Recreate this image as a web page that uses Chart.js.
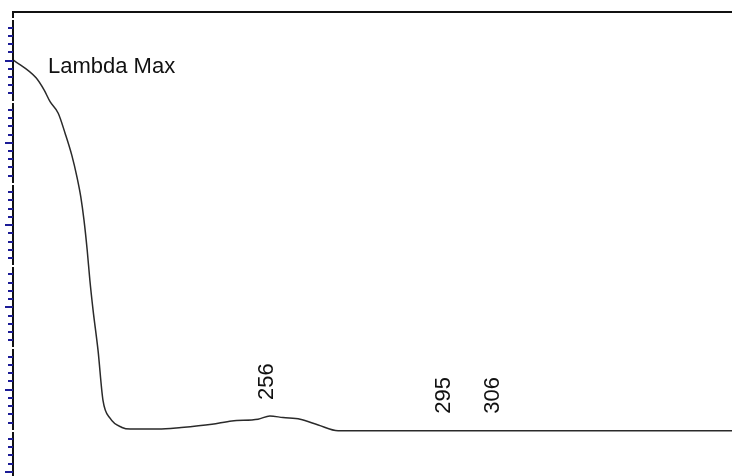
<!DOCTYPE html>
<html>
<head>
<meta charset="utf-8">
<script src="https://cdn.jsdelivr.net/npm/chart.js@4/dist/chart.umd.min.js"></script>
<style>
  body { margin: 0; background: #fff; }
  canvas { display: block; }
</style>
</head>
<body>
<canvas id="spectrum" width="732" height="476" style="width:732px;height:476px"></canvas>
<script>
// wavelength (nm) and absorbance
var wavelengths = [200, 205.1, 206.9, 208.2, 210.0, 211.5, 213.0, 214.2, 215.0, 215.7,
    216.4, 217.0, 217.7, 218.8, 219.9, 221.5, 224.1, 225.9, 232.1, 237.2,
    244.0, 248.4, 254.2, 256.8, 259.7, 263.5, 267.5, 271.9, 359];
var absorbance = [4.51, 4.29, 4.14, 4.00, 3.86, 3.62, 3.35, 3.07, 2.84, 2.56,
    2.20, 1.83, 1.47, 0.98, 0.37, 0.15, 0.04, 0.02, 0.02, 0.04,
    0.08, 0.12, 0.14, 0.18, 0.16, 0.14, 0.07, 0.0, 0.0];
var peakWavelengths = [256, 295, 306];
var peakLabels = ['256', '295', '306'];
var title = 'Lambda Max';

function curveAt(x) {
    for (var i = 1; i < wavelengths.length; i++) {
        if (x <= wavelengths[i]) {
            var t = (x - wavelengths[i - 1]) / (wavelengths[i] - wavelengths[i - 1]);
            return absorbance[i - 1] + t * (absorbance[i] - absorbance[i - 1]);
        }
    }
    return absorbance[absorbance.length - 1];
}

var frame = {
    id: 'frame',
    afterDraw: function(chart) {
        var ctx = chart.ctx;
        var area = chart.chartArea;
        var xs = chart.scales.x;
        var ys = chart.scales.y;
        ctx.save();
        // top border and left axis
        ctx.fillStyle = '#111';
        ctx.fillRect(area.left - 1, area.top - 1, area.right - area.left + 1, 2);
        ctx.fillRect(area.left - 1, area.top - 1, 2, area.bottom - area.top + 1);
        // ticks every 0.1, long at x.5, white break at whole numbers
        for (var i = -5; i <= 50; i++) {
            var py = Math.round(ys.getPixelForValue(i / 10));
            if (i % 10 === 0) {
                ctx.fillStyle = '#fff';
                ctx.fillRect(area.left - 2, py - 1, 4, 2);
                continue;
            }
            var len = (i % 5 === 0) ? 8 : 5;
            ctx.fillStyle = '#1c1c96';
            ctx.fillRect(area.left - len, py - 1, len, 2);
        }
        // title
        ctx.fillStyle = '#111';
        ctx.font = '22px "Liberation Sans", Arial, sans-serif';
        ctx.textAlign = 'left';
        ctx.textBaseline = 'alphabetic';
        ctx.fillText(title, 48, 73);
        // peak labels, rotated
        for (var k = 0; k < peakWavelengths.length; k++) {
            var px = xs.getPixelForValue(peakWavelengths[k]);
            var base = ys.getPixelForValue(curveAt(peakWavelengths[k])) - 17;
            ctx.save();
            ctx.translate(px, base);
            ctx.rotate(-Math.PI / 2);
            ctx.textAlign = 'left';
            ctx.textBaseline = 'middle';
            ctx.fillText(peakLabels[k], 0, 1);
            ctx.restore();
        }
        ctx.restore();
    }
};

window.addEventListener('load', function() {
    var points = [];
    for (var i = 0; i < wavelengths.length; i++) {
        points.push({x: wavelengths[i], y: absorbance[i]});
    }
    var ctx = document.getElementById('spectrum').getContext('2d');
    new Chart(ctx, {
        type: 'line',
        data: {
            datasets: [{
                data: points,
                borderColor: '#2a2a2a',
                borderWidth: 1.5,
                pointRadius: 0,
                fill: false,
                cubicInterpolationMode: 'monotone'
            }]
        },
        options: {
            responsive: false,
            animation: false,
            layout: {padding: {left: 13, top: 12, right: 0, bottom: 0}},
            plugins: {legend: {display: false}, tooltip: {enabled: false}},
            scales: {
                x: {type: 'linear', min: 200, max: 359, display: false},
                y: {type: 'linear', min: -0.55, max: 5.09, display: false}
            }
        },
        plugins: [frame]
    });
});
</script>
</body>
</html>
